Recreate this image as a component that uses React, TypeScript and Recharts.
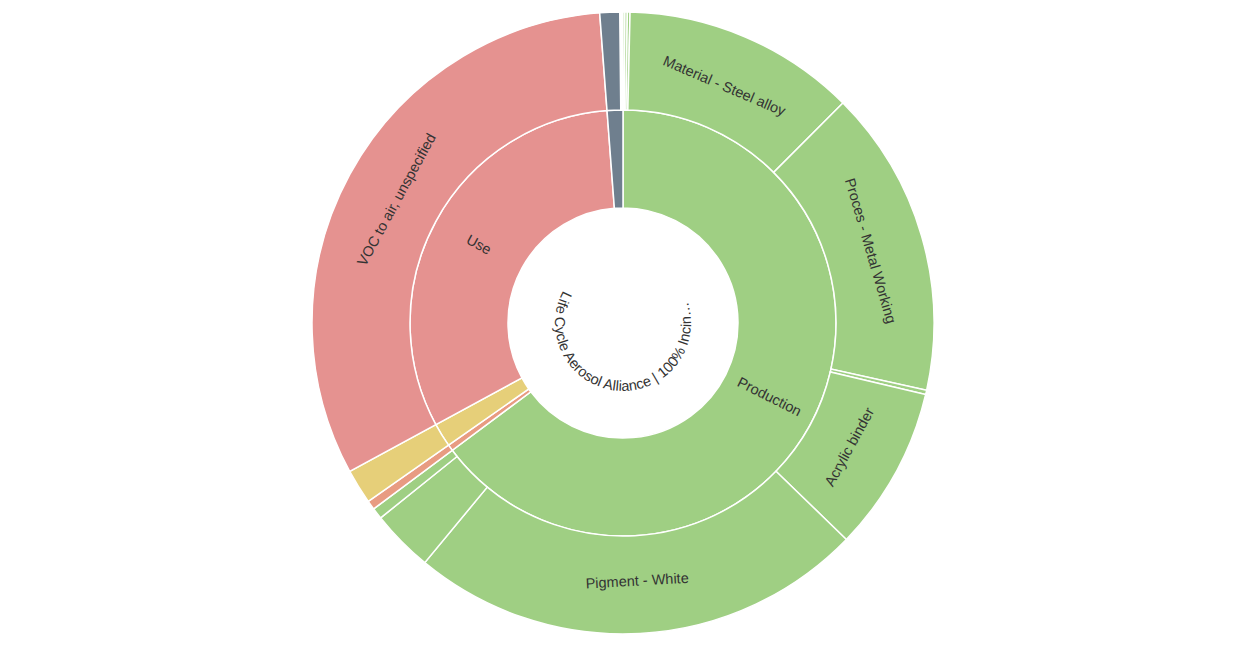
import React from "react"
import { PieChart, Pie, Cell } from "recharts"

// inner ring: life cycle stages (values as share of the circle)
const stageNames = ["Production", "End of life", "Distribution", "Use", "Packaging"]
const stageValues = [233.3, 1.7, 6.5, 114.2, 4.3]

// outer ring: flows per stage, in clockwise order
const flowNames = [
  "Material - Aluminium",
  "Material - Plastic",
  "Material - Paper",
  "Material - Steel alloy",
  "Proces - Metal Working",
  "Solvent",
  "Acrylic binder",
  "Pigment - White",
  "Propellant",
  "Additives",
  "Incineration",
  "Transport",
  "VOC to air, unspecified",
  "Cardboard box",
  "",
]
const flowValues = [0.35, 0.45, 0.5, 43.7, 57.5, 0.8, 30.8, 85.5, 11.6, 2.1, 1.7, 6.5, 114.2, 3.7, 0.6]
const flowStages = [
  "Production", "Production", "Production", "Production", "Production", "Production", "Production",
  "Production", "Production", "Production", "End of life", "Distribution", "Use", "Packaging", "",
]

const centerTitle = "Life Cycle Aerosol Alliance | 100% Incin…"

const stageColors: Record<string, string> = {
  Production: "#9fcf83",
  "End of life": "#e89b82",
  Distribution: "#e6cf79",
  Use: "#e59290",
  Packaging: "#6f7f8e",
}

const stageData = stageNames.map((name, i) => ({ name, value: stageValues[i] }))
const flowData = flowNames.map((name, i) => ({ name, value: flowValues[i], stage: flowStages[i] }))

const W = 1248
const H = 647
const CX = 623
const CY = 323
const RAD = Math.PI / 180
const FONT = "'Liberation Sans', Arial, sans-serif"
const FONT_SIZE = 14.5

// angle measured clockwise from 12 o'clock
const clockAngle = (midAngle: number) => {
  const a = 90 - midAngle
  return ((a % 360) + 360) % 360
}

function sliceText(x: number, y: number, rot: number, name: string) {
  return (
    <text
      x={x}
      y={y}
      fill="#333"
      fontSize={FONT_SIZE}
      fontFamily={FONT}
      textAnchor="middle"
      dominantBaseline="central"
      transform={`rotate(${rot} ${x} ${y})`}
    >
      {name}
    </text>
  )
}

function radialLabel(props: any) {
  const { cx, cy, midAngle, innerRadius, outerRadius, name, value } = props
  if (value < 20) return null
  const a = clockAngle(midAngle)
  const r = (innerRadius + outerRadius) / 2
  const x = cx + r * Math.sin(a * RAD)
  const y = cy - r * Math.cos(a * RAD)
  const rot = a < 180 ? a - 90 : a - 270
  return sliceText(x, y, rot, name)
}

function tangentLabel(props: any) {
  const { cx, cy, midAngle, innerRadius, outerRadius, name, value } = props
  if (value < 20) return null
  const a = clockAngle(midAngle)
  const r = (innerRadius + outerRadius) / 2 - 4
  const x = cx + r * Math.sin(a * RAD)
  const y = cy - r * Math.cos(a * RAD)
  let rot = a
  if (a > 90 && a <= 270) rot = a - 180
  else if (a > 270) rot = a - 360
  return sliceText(x, y, rot, name)
}

function CenterTitle() {
  const r = 68
  const sx = CX + r * Math.sin(300 * RAD)
  const sy = CY - r * Math.cos(300 * RAD)
  const ex = CX + r * Math.sin(60 * RAD)
  const ey = CY - r * Math.cos(60 * RAD)
  return (
    <svg width={W} height={H} style={{ position: "absolute", left: 0, top: 0, pointerEvents: "none" }}>
      <defs>
        <path id="centerArc" d={`M ${sx} ${sy} A ${r} ${r} 0 1 0 ${ex} ${ey}`} fill="none" />
      </defs>
      <text fill="#333" fontSize={FONT_SIZE} fontFamily={FONT}>
        <textPath href="#centerArc" startOffset="2">
          {centerTitle}
        </textPath>
      </text>
    </svg>
  )
}

export default function App() {
  return (
    <div style={{ position: "absolute", left: 0, top: 0, width: W, height: H, background: "#fff" }}>
      <PieChart width={W} height={H} margin={{ top: 0, right: 0, bottom: 0, left: 0 }}>
        <Pie
          data={stageData}
          dataKey="value"
          nameKey="name"
          cx={CX}
          cy={CY}
          innerRadius={115}
          outerRadius={213}
          startAngle={90}
          endAngle={-270}
          stroke="#fff"
          strokeWidth={1.5}
          label={radialLabel}
          labelLine={false}
          isAnimationActive={false}
        >
          {stageData.map((d) => (
            <Cell key={d.name} fill={stageColors[d.name]} />
          ))}
        </Pie>
        <Pie
          data={flowData}
          dataKey="value"
          nameKey="name"
          cx={CX}
          cy={CY}
          innerRadius={213}
          outerRadius={311}
          startAngle={90}
          endAngle={-270}
          stroke="#fff"
          strokeWidth={1.5}
          label={tangentLabel}
          labelLine={false}
          isAnimationActive={false}
        >
          {flowData.map((d, i) => (
            <Cell
              key={i}
              fill={d.stage ? stageColors[d.stage] : "none"}
              stroke={d.stage ? "#fff" : "none"}
            />
          ))}
        </Pie>
      </PieChart>
      <CenterTitle />
    </div>
  )
}
